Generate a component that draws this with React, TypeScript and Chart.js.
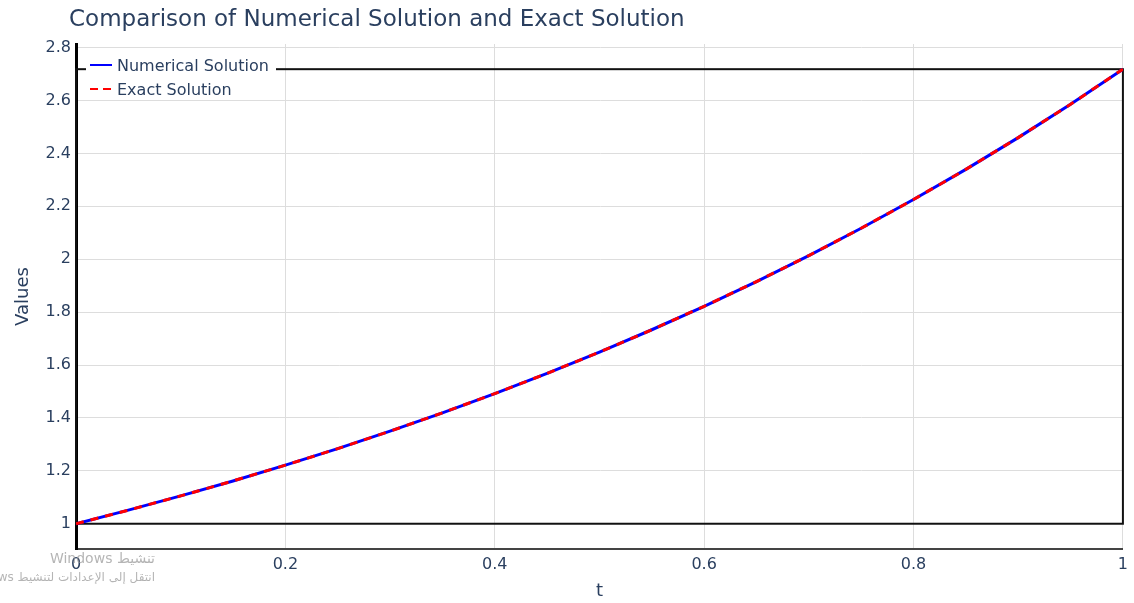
import React, { useEffect, useRef } from 'react';
import { Chart, registerables } from 'chart.js';

Chart.register(...registerables);

const titleText = 'Comparison of Numerical Solution and Exact Solution';
const xAxisTitle = 't';
const yAxisTitle = 'Values';
const seriesNames = ['Numerical Solution', 'Exact Solution'];

const tValues = [0, 0.05, 0.1, 0.15, 0.2, 0.25, 0.3, 0.35, 0.4, 0.45, 0.5, 0.55, 0.6, 0.65, 0.7, 0.75, 0.8, 0.85, 0.9, 0.95, 1];
const numericalValues = [1, 1.0513, 1.1052, 1.1618, 1.2214, 1.284, 1.3499, 1.4191, 1.4918, 1.5683, 1.6487, 1.7333, 1.8221, 1.9155, 2.0138, 2.117, 2.2255, 2.3396, 2.4596, 2.5857, 2.7183];
const exactValues = [1, 1.0513, 1.1052, 1.1618, 1.2214, 1.284, 1.3499, 1.4191, 1.4918, 1.5683, 1.6487, 1.7333, 1.8221, 1.9155, 2.0138, 2.117, 2.2255, 2.3396, 2.4596, 2.5857, 2.7183];

const xTickValues = [0, 0.2, 0.4, 0.6, 0.8, 1];
const xTickLabels = ['0', '0.2', '0.4', '0.6', '0.8', '1'];
const yTickValues = [1, 1.2, 1.4, 1.6, 1.8, 2, 2.2, 2.4, 2.6, 2.8];
const yTickLabels = ['1', '1.2', '1.4', '1.6', '1.8', '2', '2.2', '2.4', '2.6', '2.8'];

const shapeX = [0, 1];
const shapeY = [1, 2.7183];

const watermarkLines = ['تنشيط Windows', 'انتقل إلى الإعدادات لتنشيط Windows'];

const FONT = '"DejaVu Sans", Verdana, sans-serif';
const TEXT = '#2a3f5f';

const overlayPlugin = {
  id: 'overlay',
  beforeDatasetsDraw(chart: any) {
    const { ctx, scales } = chart;
    const x0 = scales.x.getPixelForValue(shapeX[0]);
    const x1 = scales.x.getPixelForValue(shapeX[1]);
    const y0 = scales.y.getPixelForValue(shapeY[0]);
    const y1 = scales.y.getPixelForValue(shapeY[1]);
    ctx.save();
    ctx.strokeStyle = '#111';
    ctx.lineWidth = 2;
    ctx.strokeRect(x0, y1, x1 - x0, y0 - y1);
    ctx.restore();
  },
  afterDraw(chart: any) {
    const { ctx } = chart;
    ctx.save();
    // title
    ctx.font = `23px ${FONT}`;
    ctx.fillStyle = TEXT;
    ctx.textAlign = 'left';
    ctx.textBaseline = 'alphabetic';
    ctx.fillText(titleText, 69, 26);

    // legend
    ctx.fillStyle = '#ffffff';
    ctx.fillRect(86, 51, 190, 47);
    ctx.lineWidth = 2;
    ctx.strokeStyle = '#0000ff';
    ctx.beginPath();
    ctx.moveTo(90, 65);
    ctx.lineTo(112, 65);
    ctx.stroke();
    ctx.strokeStyle = '#ff0000';
    ctx.setLineDash([8, 5]);
    ctx.beginPath();
    ctx.moveTo(90, 89);
    ctx.lineTo(112, 89);
    ctx.stroke();
    ctx.setLineDash([]);
    ctx.font = `16px ${FONT}`;
    ctx.fillStyle = TEXT;
    ctx.fillText(seriesNames[0], 117, 71);
    ctx.fillText(seriesNames[1], 117, 95);

    // watermark
    ctx.fillStyle = 'rgba(150,150,150,0.7)';
    ctx.direction = 'rtl';
    ctx.textAlign = 'right';
    ctx.font = `14px ${FONT}`;
    ctx.fillText(watermarkLines[0], 155, 563);
    ctx.font = `12px ${FONT}`;
    ctx.fillText(watermarkLines[1], 155, 581);
    ctx.restore();
  },
};

export default function App() {
  const canvasRef = useRef<HTMLCanvasElement | null>(null);

  useEffect(() => {
    document.body.style.margin = '0';
    const canvas = canvasRef.current;
    if (!canvas) return;
    const chart = new Chart(canvas, {
      type: 'line',
      data: {
        datasets: [
          {
            label: seriesNames[0],
            data: tValues.map((t, i) => ({ x: t, y: numericalValues[i] })),
            borderColor: '#0000ff',
            borderWidth: 3,
            pointRadius: 0,
            fill: false,
            tension: 0,
            order: 2,
          },
          {
            label: seriesNames[1],
            data: tValues.map((t, i) => ({ x: t, y: exactValues[i] })),
            borderColor: '#ff0000',
            borderWidth: 3,
            borderDash: [8, 7],
            pointRadius: 0,
            fill: false,
            tension: 0,
            order: 1,
          },
        ],
      },
      options: {
        responsive: false,
        animation: false,
        events: [],
        layout: { padding: { top: 44, right: 11, left: 0, bottom: 0 } },
        plugins: {
          legend: { display: false },
          title: { display: false },
          tooltip: { enabled: false },
        },
        scales: {
          x: {
            type: 'linear',
            min: 0,
            max: 1,
            afterFit: (s: any) => { s.height = 54; },
            afterBuildTicks: (s: any) => { s.ticks = xTickValues.map((v) => ({ value: v })); },
            ticks: {
              padding: 6,
              color: TEXT,
              font: { family: FONT, size: 16 },
              maxRotation: 0,
              autoSkip: false,
              callback: (v: any) => xTickLabels[xTickValues.indexOf(Number(v))] ?? '',
            },
            grid: { color: '#dddddd', lineWidth: 1, drawTicks: false },
            border: { display: true, color: '#444', width: 2 },
            title: {
              display: true,
              text: xAxisTitle,
              color: TEXT,
              font: { family: FONT, size: 18, lineHeight: 1.2 },
              padding: { top: 0, bottom: 1 },
            },
          },
          y: {
            type: 'linear',
            min: 0.9045,
            max: 2.8135,
            afterFit: (s: any) => { s.width = 76; },
            afterBuildTicks: (s: any) => { s.ticks = yTickValues.map((v) => ({ value: v })); },
            ticks: {
              padding: 5,
              color: TEXT,
              font: { family: FONT, size: 16 },
              autoSkip: false,
              callback: (v: any) => yTickLabels[yTickValues.indexOf(Number(v))] ?? '',
            },
            grid: { color: '#dddddd', lineWidth: 1, drawTicks: false },
            border: { display: true, color: '#000', width: 3 },
            title: {
              display: true,
              text: yAxisTitle,
              color: TEXT,
              font: { family: FONT, size: 18, lineHeight: 1.2 },
              padding: { top: 13, bottom: 0 },
            },
          },
        },
      },
      plugins: [overlayPlugin],
    });
    return () => chart.destroy();
  }, []);

  return (
    <div style={{ width: 1134, height: 603, background: '#fff' }}>
      <canvas ref={canvasRef} width={1134} height={603} style={{ display: 'block' }} />
    </div>
  );
}
